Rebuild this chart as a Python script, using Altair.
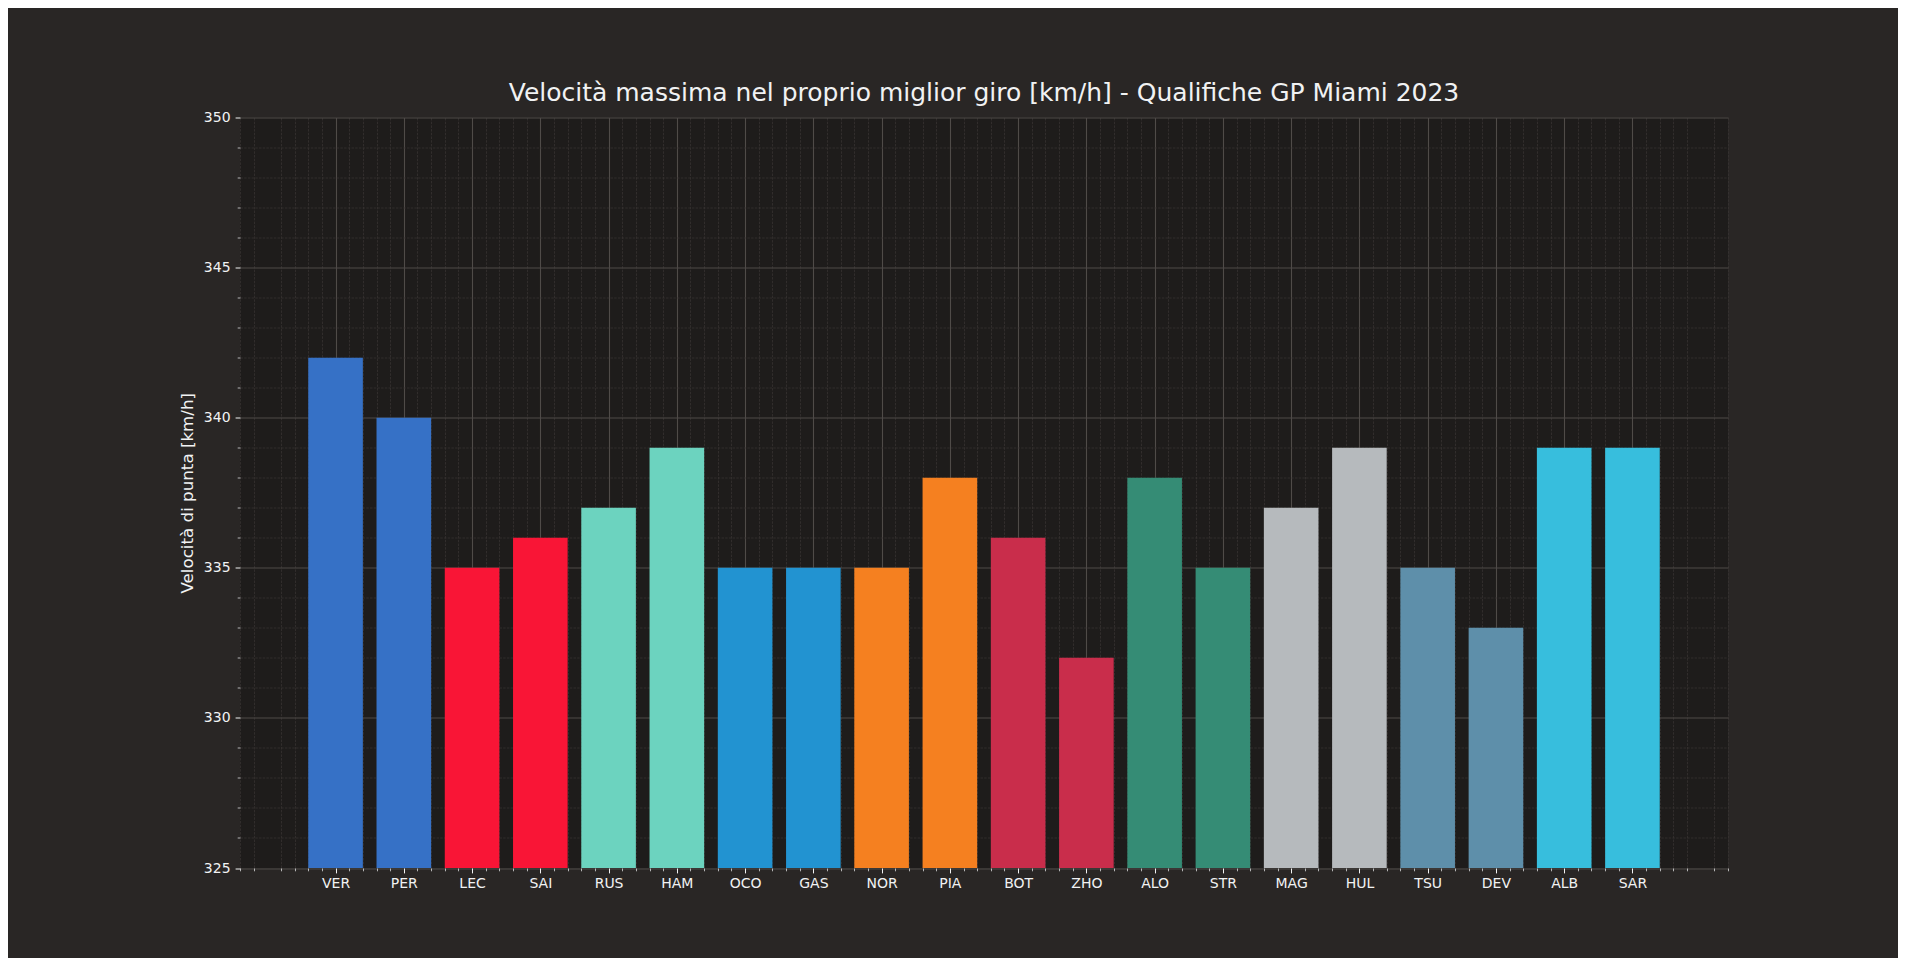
import altair as alt
import numpy as np
import pandas as pd

# ---- data ----
drivers = ["VER", "PER", "LEC", "SAI", "RUS", "HAM", "OCO", "GAS", "NOR", "PIA",
           "BOT", "ZHO", "ALO", "STR", "MAG", "HUL", "TSU", "DEV", "ALB", "SAR"]
speeds = [342, 340, 335, 336, 337, 339, 335, 335, 335, 338,
          336, 332, 338, 335, 337, 339, 335, 333, 339, 339]
colors = ["#3671C6", "#3671C6", "#F91536", "#F91536", "#6CD3BF", "#6CD3BF",
          "#2293D1", "#2293D1", "#F58020", "#F58020", "#C92D4B", "#C92D4B",
          "#358C75", "#358C75", "#B6BABD", "#B6BABD", "#5E8FAA", "#5E8FAA",
          "#37BEDD", "#37BEDD"]
y_major = [325, 330, 335, 340, 345, 350]
TITLE = "Velocità massima nel proprio miglior giro [km/h] - Qualifiche GP Miami 2023"
YTITLE = "Velocità di punta [km/h]"

# ---- style ----
BG = "#292625"
PLOT_BG = "#1e1c1b"
TEXT = "#F1F2F3"
MAJOR = "#4f4b48"
MINOR = "#393533"
FONT = "DejaVu Sans"
XMIN, XMAX = -1.4, 20.4
YMIN, YMAX = 325, 350
BAR_HALF = 0.4

x_major = list(range(len(drivers)))
x_minor = [v for v in np.round(np.arange(-14, 205, 2) / 10, 1).tolist() if abs(v - round(v)) > 1e-6]
y_minor = [v for v in range(YMIN, YMAX + 1) if v not in y_major]

df = pd.DataFrame({"driver": drivers, "idx": x_major, "speed": speeds, "color": colors})

xscale = alt.Scale(domain=[XMIN, XMAX], nice=False, zero=False)
yscale = alt.Scale(domain=[YMIN, YMAX], nice=False, zero=False)

label_expr = "[" + ",".join("'%s'" % d for d in drivers) + "][round(datum.value)]"

base = alt.Chart(df).transform_calculate(
    x0="datum.idx - %f" % BAR_HALF, x1="datum.idx + %f" % BAR_HALF
)

minor = base.mark_bar(opacity=0).encode(
    x=alt.X("x0:Q", scale=xscale, axis=alt.Axis(
        orient="bottom", values=x_minor, labels=False, tickSize=2.8, tickWidth=0.7,
        tickColor=TEXT, grid=True, gridColor=MINOR, gridDash=[2.5, 1.2], gridWidth=0.7,
        domain=False, title=None)),
    x2="x1:Q",
    y=alt.Y("speed:Q", scale=yscale, axis=alt.Axis(
        orient="left", values=y_minor, labels=False, tickSize=2.8, tickWidth=0.7,
        tickColor=TEXT, grid=True, gridColor=MINOR, gridDash=[2.5, 1.2], gridWidth=0.7,
        domain=False, title=None)),
    y2=alt.datum(YMIN),
)

bars = base.mark_bar().encode(
    x=alt.X("x0:Q", scale=xscale, axis=alt.Axis(
        orient="bottom", values=x_major, labelExpr=label_expr, tickSize=4.9, tickWidth=1,
        tickColor=TEXT, grid=True, gridColor=MAJOR, gridWidth=1.1, domain=False,
        title=None, labelColor=TEXT, labelFont=FONT, labelFontSize=14, labelPadding=4)),
    x2="x1:Q",
    y=alt.Y("speed:Q", scale=yscale, axis=alt.Axis(
        orient="left", values=y_major, tickSize=4.9, tickWidth=1, tickColor=TEXT,
        grid=True, gridColor=MAJOR, gridWidth=1.1, domain=False,
        labelColor=TEXT, labelFont=FONT, labelFontSize=14, labelPadding=5,
        title=YTITLE, titleColor=TEXT, titleFont=FONT, titleFontSize=16.7,
        titleFontWeight="normal", titlePadding=7)),
    y2=alt.datum(YMIN),
    color=alt.Color("color:N", scale=None),
)

chart = alt.layer(minor, bars).resolve_axis(
    x="independent", y="independent"
).properties(
    width=1488,
    height=750.5,
    title=alt.TitleParams(TITLE, fontSize=25, font=FONT, fontWeight="normal", color=TEXT,
                          anchor="middle", frame="group", baseline="alphabetic",
                          offset=0, dy=15.5),
    autosize=alt.AutoSizeParams(type="none"),
    padding={"left": 232, "top": 109.5, "right": 170, "bottom": 90},
    background=BG,
).configure_view(fill=PLOT_BG, stroke=None)

chart.save("out.html", embed_options={"renderer": "svg", "actions": False})
